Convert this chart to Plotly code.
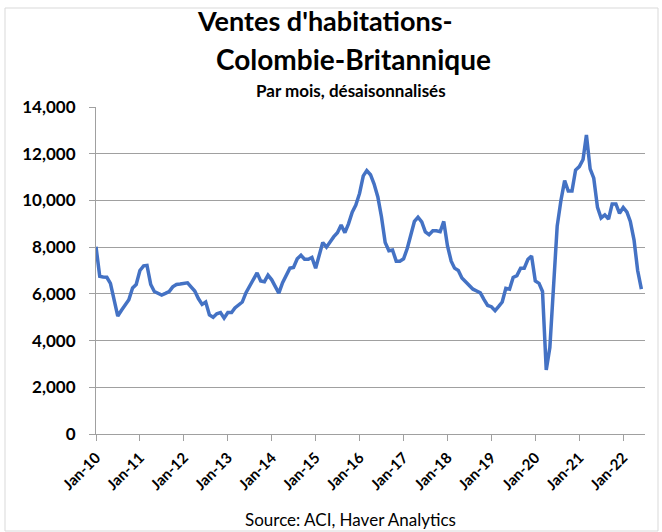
import plotly.graph_objects as go
import pandas as pd

# Monthly BC home sales, seasonally adjusted, Jan-2010 .. Jun-2022
months = pd.date_range("2010-01-01", periods=150, freq="MS")
sales = [
    8020, 6750, 6720, 6710, 6450, 5750, 5050, 5300, 5500, 5750, 6250, 6400,   # 2010
    7000, 7200, 7220, 6400, 6100, 6020, 5950, 6020, 6100, 6300, 6400, 6420,   # 2011
    6430, 6470, 6300, 6120, 5800, 5550, 5650, 5100, 5000, 5150, 5200, 4960,   # 2012
    5200, 5200, 5400, 5550, 5650, 6050, 6350, 6650, 6900, 6550, 6520, 6800,   # 2013
    6600, 6300, 6030, 6480, 6800, 7100, 7130, 7500, 7650, 7480, 7480, 7560,   # 2014
    7100, 7700, 8200, 8000, 8230, 8450, 8620, 8950, 8620, 9000, 9500, 9800,   # 2015
    10300, 11050, 11280, 11100, 10700, 10150, 9300, 8200, 7850, 7880, 7400, 7400,  # 2016
    7500, 7950, 8500, 9100, 9280, 9080, 8650, 8530, 8700, 8700, 8660, 9100,   # 2017
    8050, 7400, 7100, 7000, 6680, 6520, 6350, 6200, 6120, 6040, 5750, 5500,   # 2018
    5450, 5280, 5450, 5650, 6240, 6200, 6700, 6780, 7100, 7100, 7480, 7620,   # 2019
    6550, 6450, 6100, 2740, 3700, 6300, 8900, 10000, 10850, 10400, 10400, 11300,  # 2020
    11450, 11750, 12800, 11350, 10950, 9700, 9250, 9380, 9200, 9850, 9850, 9450,  # 2021
    9700, 9500, 9100, 8300, 7000, 6200,                                        # 2022
]

title_lines = ["Ventes d'habitations-", "Colombie-Britannique"]
subtitle = "Par mois, désaisonnalisés"
source = "Source: ACI, Haver Analytics"

W, H = 662, 532
L, R, T, B = 96, 645, 107, 434

def px(x):
    return (x - L) / (R - L)

def py(y):
    return (B - y) / (B - T)

fig = go.Figure()
fig.add_trace(go.Scatter(
    x=months, y=sales, mode="lines",
    line=dict(color="#4472C4", width=3.5),
    hoverinfo="x+y",
))

font_family = "Lato, 'Open Sans', sans-serif"

fig.update_layout(
    width=W, height=H,
    margin=dict(l=L, r=W - R, t=T, b=H - B, autoexpand=False),
    paper_bgcolor="white", plot_bgcolor="white",
    showlegend=False,
    font=dict(family=font_family, color="black"),
    xaxis=dict(
        range=[months[0], pd.Timestamp("2022-07-01")],
        tickmode="linear", tick0="2010-01-01", dtick="M12",
        tickformat="%b-%y", tickangle=-45,
        tickfont=dict(size=15, family=font_family, weight="bold"),
        showgrid=False, showline=True, linecolor="#a0a0a0", linewidth=1.2,
        ticks="outside", ticklen=6, tickcolor="#a0a0a0",
        zeroline=False, ticklabelstandoff=2,
    ),
    yaxis=dict(
        range=[0, 14000], tickmode="linear", tick0=0, dtick=2000,
        tickformat=",",
        tickfont=dict(size=17, family=font_family, weight="bold"),
        showgrid=True, gridcolor="#a0a0a0", gridwidth=1.2,
        showline=True, linecolor="#a0a0a0", linewidth=1.2,
        ticks="outside", ticklen=6, tickcolor="#a0a0a0",
        zeroline=False, ticklabelstandoff=10,
    ),
    shapes=[dict(
        type="rect", xref="paper", yref="paper",
        x0=px(5), x1=px(658), y0=py(531), y1=py(8),
        line=dict(color="#d9d9d9", width=1), fillcolor="rgba(0,0,0,0)",
        layer="below",
    )],
    annotations=[
        dict(text="<b>" + title_lines[0] + "</b>", x=px(325), y=py(21),
             xref="paper", yref="paper", showarrow=False,
             font=dict(size=27, family=font_family), xanchor="center", yanchor="middle"),
        dict(text="<b>" + title_lines[1] + "</b>", x=px(353), y=py(59),
             xref="paper", yref="paper", showarrow=False,
             font=dict(size=28, family=font_family), xanchor="center", yanchor="middle"),
        dict(text="<b>" + subtitle + "</b>", x=px(351), y=py(90),
             xref="paper", yref="paper", showarrow=False,
             font=dict(size=17, family=font_family), xanchor="center", yanchor="middle"),
        dict(text=source, x=px(350), y=py(519),
             xref="paper", yref="paper", showarrow=False,
             font=dict(size=17, family=font_family), xanchor="center", yanchor="middle"),
    ],
)

fig.write_html(
    "out.html",
    config={"displayModeBar": False},
    post_script="document.body.style.margin='0';document.body.style.overflow='hidden';",
)
